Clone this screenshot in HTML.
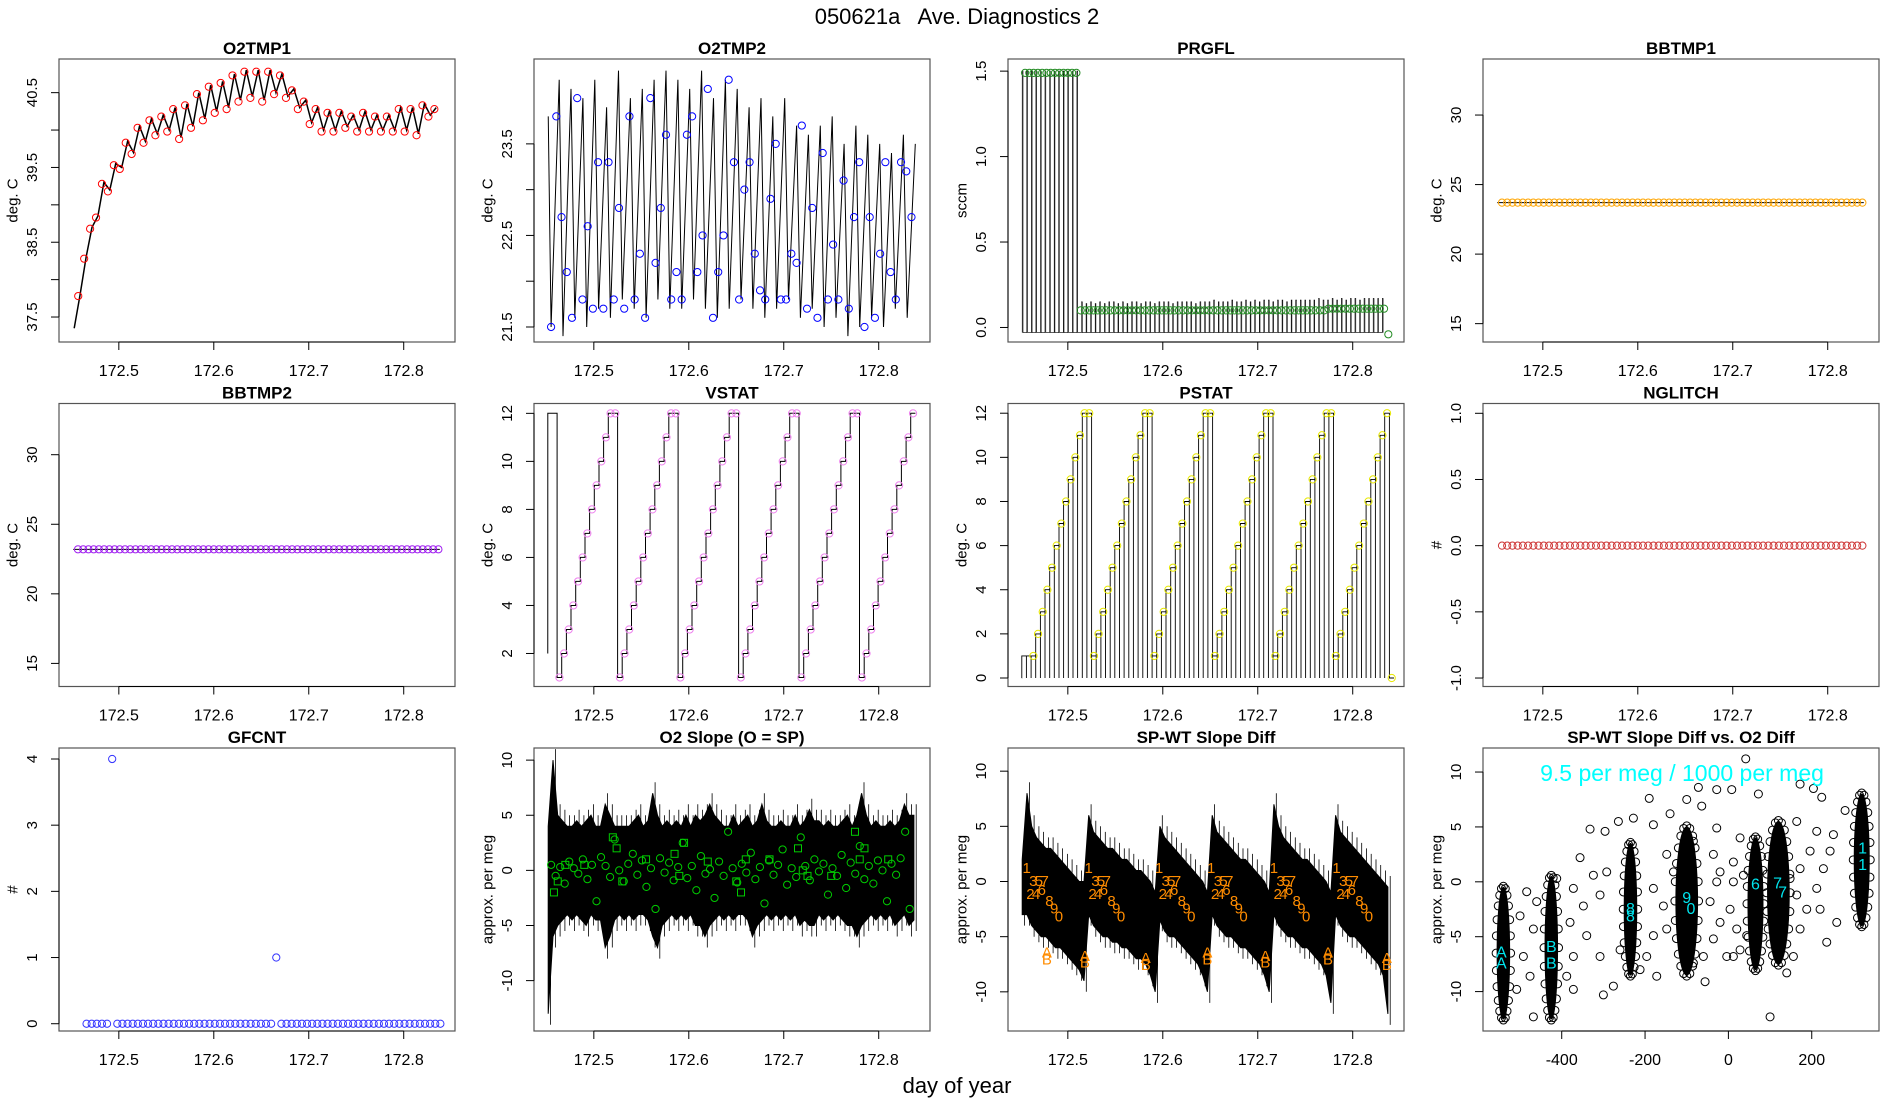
<!DOCTYPE html>
<html><head><meta charset="utf-8"><title>050621a Ave. Diagnostics 2</title>
<style>
html,body{margin:0;padding:0;background:#fff;}
svg{display:block;font-family:"Liberation Sans",Arial,sans-serif;}
</style></head>
<body>
<svg id="chart" width="1900" height="1100" viewBox="0 0 1900 1100" xmlns="http://www.w3.org/2000/svg">
<rect x="0" y="0" width="1900" height="1100" fill="#fff"/>
<text x="957" y="24" font-size="22" text-anchor="middle" xml:space="preserve">050621a   Ave. Diagnostics 2</text>
<text x="957" y="1093" font-size="22" text-anchor="middle">day of year</text>
</svg>
<script>
// ---------- data ----------
const o2tmp1Line=[37.35,37.8,38.3,38.7,38.85,39.3,39.2,39.55,39.5,39.85,39.7,40.05,39.85,40.15,39.95,40.2,40.0,40.3,39.9,40.35,40.05,40.5,40.15,40.6,40.25,40.65,40.3,40.75,40.4,40.8,40.45,40.8,40.4,40.8,40.5,40.75,40.45,40.55,40.3,40.4,40.1,40.3,40.0,40.25,40.0,40.25,40.05,40.2,40.0,40.25,40.0,40.2,40.0,40.2,40.0,40.3,40.0,40.3,39.95,40.35,40.2,40.3];
const o2tmp2Peaks=[24.2,24.1,24.0,24.2,23.9,24.3,24.0,24.1,24.2,24.3,24.2,24.1,24.3,24.0,24.2,24.1,23.9,24.0,23.8,24.0,23.7,23.6,23.7,23.8,23.5,23.7,23.6,23.5,23.4,23.6,23.5];
const o2tmp2Troughs=[21.5,21.4,21.6,21.5,21.7,21.6,21.8,21.7,21.6,21.8,21.7,21.7,21.8,21.7,21.6,21.7,21.8,21.7,21.6,21.7,21.8,21.6,21.7,21.5,21.6,21.4,21.5,21.6,21.5,21.7,21.6];
const o2tmp2Points=[21.5,23.8,22.7,22.1,21.6,24.0,21.8,22.6,21.7,23.3,21.7,23.3,21.8,22.8,21.7,23.8,21.8,22.3,21.6,24.0,22.2,22.8,23.6,21.8,22.1,21.8,23.6,23.8,22.1,22.5,24.1,21.6,22.1,22.5,24.2,23.3,21.8,23.0,23.3,22.3,21.9,21.8,22.9,23.5,21.8,21.8,22.3,22.2,23.7,21.7,22.8,21.6,23.4,21.8,22.4,21.8,23.1,21.7,22.7,23.3,21.5,22.7,21.6,22.3,23.3,22.1,21.8,23.3,23.2,22.7];
const prgflPeaks=[1.5,1.5,1.5,1.5,1.5,1.5,1.5,1.5,1.5,1.5,1.5,1.5,1.5,0.15,0.14,0.15,0.14,0.15,0.14,0.15,0.15,0.14,0.15,0.14,0.15,0.15,0.14,0.15,0.15,0.14,0.15,0.15,0.15,0.14,0.15,0.15,0.15,0.15,0.14,0.15,0.15,0.15,0.16,0.15,0.15,0.15,0.16,0.15,0.15,0.16,0.15,0.16,0.15,0.16,0.16,0.15,0.16,0.16,0.15,0.16,0.16,0.16,0.16,0.16,0.16,0.17,0.16,0.16,0.17,0.16,0.17,0.16,0.17,0.17,0.16,0.17,0.17,0.17,0.17,0.17];
const prgflPoints=[1.49,1.49,1.49,1.49,1.49,1.49,1.49,1.49,1.49,1.49,1.49,1.49,1.49,0.1,0.1,0.1,0.1,0.1,0.1,0.1,0.1,0.1,0.1,0.1,0.1,0.1,0.1,0.1,0.1,0.1,0.1,0.1,0.1,0.1,0.1,0.1,0.1,0.1,0.1,0.1,0.1,0.1,0.1,0.1,0.1,0.1,0.1,0.1,0.1,0.1,0.1,0.1,0.1,0.1,0.1,0.1,0.1,0.1,0.1,0.1,0.1,0.1,0.1,0.1,0.1,0.1,0.1,0.1,0.1,0.1,0.1,0.11,0.11,0.11,0.11,0.11,0.11,0.11,0.11,0.11,0.11,0.11,0.11,0.11,0.11,-0.04];
const bbtmp1Points=[23.7,23.7,23.7,23.7,23.7,23.7,23.7,23.7,23.7,23.7,23.7,23.7,23.7,23.7,23.7,23.7,23.7,23.7,23.7,23.7,23.7,23.7,23.7,23.7,23.7,23.7,23.7,23.7,23.7,23.7,23.7,23.7,23.7,23.7,23.7,23.7,23.7,23.7,23.7,23.7,23.7,23.7,23.7,23.7,23.7,23.7,23.7,23.7,23.7,23.7,23.7,23.7,23.7,23.7,23.7,23.7,23.7,23.7,23.7,23.7,23.7,23.7,23.7,23.7,23.7,23.7,23.7,23.7,23.7,23.7];
const bbtmp2Points=[23.2,23.2,23.2,23.2,23.2,23.2,23.2,23.2,23.2,23.2,23.2,23.2,23.2,23.2,23.2,23.2,23.2,23.2,23.2,23.2,23.2,23.2,23.2,23.2,23.2,23.2,23.2,23.2,23.2,23.2,23.2,23.2,23.2,23.2,23.2,23.2,23.2,23.2,23.2,23.2,23.2,23.2,23.2,23.2,23.2,23.2,23.2,23.2,23.2,23.2,23.2,23.2,23.2,23.2,23.2,23.2,23.2,23.2,23.2,23.2,23.2,23.2,23.2,23.2,23.2,23.2,23.2,23.2,23.2,23.2];
const vstatLevels=[12,12,1,2,3,4,5,6,7,8,9,10,11,12,12,1,2,3,4,5,6,7,8,9,10,11,12,12,1,2,3,4,5,6,7,8,9,10,11,12,12,1,2,3,4,5,6,7,8,9,10,11,12,12,1,2,3,4,5,6,7,8,9,10,11,12,12,1,2,3,4,5,6,7,8,9,10,11,12];
const pstatLevels=[1,1,1,2,3,4,5,6,7,8,9,10,11,12,12,1,2,3,4,5,6,7,8,9,10,11,12,12,1,2,3,4,5,6,7,8,9,10,11,12,12,1,2,3,4,5,6,7,8,9,10,11,12,12,1,2,3,4,5,6,7,8,9,10,11,12,12,1,2,3,4,5,6,7,8,9,10,11,12,0];
const nglitchPoints=[0,0,0,0,0,0,0,0,0,0,0,0,0,0,0,0,0,0,0,0,0,0,0,0,0,0,0,0,0,0,0,0,0,0,0,0,0,0,0,0,0,0,0,0,0,0,0,0,0,0,0,0,0,0,0,0,0,0,0,0,0,0,0,0,0,0,0,0,0,0];
const gfcntPoints=[0,0,0,0,0,4,0,0,0,0,0,0,0,0,0,0,0,0,0,0,0,0,0,0,0,0,0,0,0,0,0,0,0,0,0,0,0,1,0,0,0,0,0,0,0,0,0,0,0,0,0,0,0,0,0,0,0,0,0,0,0,0,0,0,0,0,0,0,0,0];
const o2SlopeUpper=[4,10,5,4.5,4,4,4.5,4,4.5,5,4,4,6,5,4,4,4,4,4.5,5,4,4.5,7,5,4,4.5,4,4.5,4,5,4,5,4.5,5,6,5,4.5,4,4,5,4,4.5,5,4,4.5,6,4.5,4,4,4.5,4,4,5,4,4.5,5.5,4.5,4.5,4,4.5,4,4,4.5,5,4,5,7,5,4,4.5,4,4,4.5,4,4.5,6,5,5];
const o2SlopeLower=[-13,-6,-5,-4.5,-4,-4.5,-4,-4.5,-5,-4,-4.5,-4.5,-7,-6,-4.5,-4,-4.5,-4,-4.5,-4,-4,-4.5,-6,-7,-5,-4.5,-4,-4.5,-4,-4.5,-4,-5,-5,-6,-5,-4.5,-4,-4.5,-4,-4.5,-4,-4,-4.5,-6,-5,-4.5,-4,-4.5,-4,-4.5,-4,-4.5,-4,-5,-4.5,-5,-5,-4,-4.5,-4,-4.5,-4,-4.5,-5,-5,-6,-5,-4.5,-4,-4.5,-4,-4.5,-4,-5,-4.5,-4,-5,-4.5];
const o2SlopeCircles=[0.5,-0.5,0.3,-1.2,0.8,0.2,-0.3,1.0,-0.8,0.5,-2.8,1.2,0.4,-0.6,2.8,0.0,-1.0,0.6,1.5,-0.4,0.9,-1.5,0.2,-3.5,1.1,-0.2,0.7,-0.9,0.3,2.5,-0.7,0.4,-1.8,1.3,-0.3,0.1,-2.5,0.8,-0.5,3.5,0.2,-1.1,0.6,-0.2,1.6,-0.8,0.3,-3.0,0.9,-0.4,0.5,1.9,-1.3,0.2,-0.6,3.0,0.4,-0.9,1.0,-0.1,0.6,-2.2,0.2,-0.5,1.4,-1.6,0.7,-0.3,2.2,-0.8,0.4,-1.2,0.9,0.0,-2.8,0.6,-0.4,1.1,3.5,-3.5];
const o2SlopeSquareX=[172.458,172.462,172.47,172.52,172.524,172.53,172.585,172.59,172.595,172.65,172.655,172.66,172.715,172.72,172.725,172.775,172.78,172.785,172.49,172.555,172.62,172.685,172.75,172.81];
const o2SlopeSquareY=[-2,-1,0.5,3,2,-1,1.5,-0.5,2.5,-1,-2,1,2,0,-0.5,3.5,1,2,0.5,1,0.8,1,-0.5,1];
const spwtUpper=[2,8,5,4,3.5,3,3,2.5,2,1.5,1,0.5,0,0,6,4.5,4,3.5,3,3,2.5,2,2,1.5,1,1,0.5,0,-1,5,4,3.5,3,2.5,2,1.5,1,0.5,0,-1,6,4.5,4,3.5,3,2.5,2,2,1.5,1,0.5,0,-1,7,5,4,3.5,3,2.5,2,2,1.5,1,0.5,0,-1,6,4.5,4,3.5,3,2.5,2,1.5,1,0.5,0,-0.5];
const spwtLower=[-3,-3,-4,-4.5,-5,-5,-5.5,-6,-6,-6.5,-7,-7.5,-8,-9,-3,-4,-4.5,-5,-5,-5.5,-5.5,-6,-6,-6.5,-7,-7,-7.5,-8.5,-10,-3.5,-4.5,-5,-5,-5.5,-6,-6.5,-7,-7.5,-8.5,-10,-3,-4,-4.5,-5,-5,-5.5,-6,-6,-6.5,-7,-7.5,-8.5,-10,-3,-4,-4.5,-5,-5,-5.5,-6,-6,-6.5,-7,-7.5,-8.5,-11,-3,-4,-4.5,-5,-5,-5.5,-6,-6.5,-7,-7.5,-8.5,-12];
const spwtCycleStarts=[172.4566,172.522,172.596,172.651,172.717,172.783];
const spwtDigits=['1','2','3','4','5','6','7','8','9','0'];
const spwtDigitDx=[0,0.004,0.007,0.010,0.013,0.016,0.019,0.024,0.029,0.034];
const spwtDigitY=[1.2,-1.2,0,-1.2,0,-0.8,0,-1.8,-2.5,-3.2];
const spwtAX=[172.478,172.518,172.582,172.647,172.708,172.774,172.836];
const spwtAY=[-6.5,-6.8,-7,-6.5,-6.8,-6.5,-7];
const scatX=[41.6,-72,-28,8,-100,-190,72,172,204,224,-64,-140,-228,-264,-332,-296,-180,-356,-292,-324,-372,-308,-348,-380,-340,-372,-388,-372,-300,-276,-308,-260,-484,-500,-468,-492,-476,-508,-468,-460,-180,-156,-148,-180,-196,-172,-212,-148,-132,-36,-20,12,-44,4,-20,20,-36,-4,-56,100,140,156,172,188,212,228,244,196,172,164,212,252,280,260,236,220,28,-28,-84,-92,-84,-60,12,28,44,12,-28,36,124,148,164,-412];
const scatY=[11.2,8.6,8.4,8.4,7.5,7.6,8.0,8.9,8.5,7.7,6.9,6.2,5.8,5.5,4.8,4.6,5.2,2.2,0.9,0.6,-0.6,-1.2,-2.2,-3.7,-4.9,-6.8,-8.6,-9.8,-10.3,-9.5,-6.8,-6.2,-0.9,-3.1,-4.3,-6.8,-8.6,-9.8,-12.3,-1.8,-0.6,-2.2,-4.3,-4.9,-6.8,-8.6,-8.0,2.5,0.9,2.5,0.9,1.8,-1.8,-2.5,-3.7,-4.3,-5.2,-6.8,-9.1,-12.3,-8.3,-6.8,-4.3,-2.5,-0.6,1.2,2.8,2.8,1.2,5.5,4.6,4.3,6.5,-3.7,-5.5,-2.5,4.0,4.9,3.7,-3.7,-7.4,-6.8,-6.8,-6.2,-4.9,0,0,0.6,1.8,0.3,-1.2,0.3];
const clusterX=[-540,-425,-235,-100,65,120,320];
const clusterHalfW=[15,15,15,26,18,26,18];
const clusterYMin=[-12.5,-12.5,-8.5,-8.5,-8,-7.5,-4];
const clusterYMax=[-0.5,0.5,3.5,5,4,5.5,8];
const cyanChars=['A','A','B','B','8','8','9','0','6','7','7','1','1'];
const cyanX=[-545,-545,-425,-425,-235,-235,-100,-90,65,118,130,322,322];
const cyanY=[-6.5,-7.5,-6,-7.5,-2.5,-3.2,-1.5,-2.5,-0.3,-0.2,-1,3,1.5];

// ---------- helpers ----------
const NS='http://www.w3.org/2000/svg';
const svg=document.getElementById('chart');
function mk(tag,attrs,parent){const e=document.createElementNS(NS,tag);for(const k in attrs)e.setAttribute(k,attrs[k]);(parent||svg).appendChild(e);return e;}
const colL=[59,534,1008,1483],rowT=[59,403.5,748],W=396,H=283;
const TX0=172.437,TX1=172.854;
function panel(idx,name,title,ylab,ymin,ymax,yticks,ylabels,xmin,xmax,xticks,xlabels){
  const L=colL[idx%4],T=rowT[Math.floor(idx/4)];
  const g=mk('g',{});
  
  
  const sx=v=>L+(v-xmin)/(xmax-xmin)*W, sy=v=>T+(ymax-v)/(ymax-ymin)*H;
  const cp=mk('clipPath',{id:'clip'+idx},g);
  mk('rect',{x:L,y:T,width:W,height:H},cp);
  const data=mk('g',{'clip-path':'url(#clip'+idx+')'},g);
  
  
  const box=mk('rect',{x:L,y:T,width:W,height:H,fill:'none',stroke:'#555','stroke-width':1.2},g);
  
  
  const t=mk('text',{x:L+W/2,y:T-5,'font-size':17,'font-weight':'bold','text-anchor':'middle'},g);
  t.textContent=title;
  
  
  const yl=mk('text',{x:L-46,y:T+H/2,'font-size':15,'text-anchor':'middle','dominant-baseline':'central',transform:`rotate(-90 ${L-46} ${T+H/2})`},g);
  yl.textContent=ylab;
  
  
  const ya=mk('g',{stroke:'#000','stroke-width':1},g);
  
  
  mk('line',{x1:L,x2:L,y1:sy(yticks[0]),y2:sy(yticks[yticks.length-1])},ya);
  yticks.forEach((v,i)=>{
    mk('line',{x1:L,x2:L-8,y1:sy(v),y2:sy(v)},ya);
    if(ylabels[i]!==''){
      const tl=mk('text',{x:L-22,y:sy(v),'font-size':15,'text-anchor':'middle',stroke:'none',fill:'#000',transform:`rotate(-90 ${L-22} ${sy(v)})`},g);
      tl.textContent=ylabels[i];
      
      
    }
  });
  const xa=mk('g',{stroke:'#000','stroke-width':1},g);
  
  
  mk('line',{y1:T+H,y2:T+H,x1:sx(xticks[0]),x2:sx(xticks[xticks.length-1])},xa);
  xticks.forEach((v,i)=>{
    mk('line',{x1:sx(v),x2:sx(v),y1:T+H,y2:T+H+8},xa);
    const tl=mk('text',{x:sx(v),y:T+H+34,'font-size':16,'text-anchor':'middle'},g);
    tl.textContent=xlabels[i];
    
    
  });
  return {data,sx,sy,L,T};
}
const tTicks=[172.5,172.6,172.7,172.8],tLabels=['172.5','172.6','172.7','172.8'];
function circ(p,x,y,color,name,r){
  const c=mk('circle',{cx:p.sx(x),cy:p.sy(y),r:r||3.6,fill:'none',stroke:color,'stroke-width':1},p.data);
  
  
  return c;
}
function pathEl(p,d,name,attrs){
  const e=mk('path',Object.assign({d:d,fill:'none',stroke:'#000','stroke-width':1},attrs||{}),p.data);
  
  
  return e;
}

// ---- P1 O2TMP1
{
  const p=panel(0,'o2tmp1','O2TMP1','deg. C',37.166,40.95,[37.5,38,38.5,39,39.5,40,40.5],['37.5','','38.5','','39.5','','40.5'],TX0,TX1,tTicks,tLabels);
  let d='';
  o2tmp1Line.forEach((v,i)=>{const x=172.453+i*0.00625;d+=(i?'L':'M')+p.sx(x).toFixed(1)+','+p.sy(v).toFixed(1);});
  pathEl(p,d,'o2tmp1-line',{'stroke-width':1.5});
  o2tmp1Line.forEach((v,i)=>{if(i>0){circ(p,172.453+i*0.00625-0.002,v-0.02,'#ff0000','o2tmp1-point');}});
}
// ---- P2 O2TMP2
{
  const p=panel(1,'o2tmp2','O2TMP2','deg. C',21.336,24.427,[21.5,22,22.5,23,23.5],['21.5','','22.5','','23.5'],TX0,TX1,tTicks,tLabels);
  let d='M'+p.sx(172.452)+','+p.sy(23.8);
  o2tmp2Troughs.forEach((v,i)=>{const x=172.455+i*0.0125;d+='L'+p.sx(x).toFixed(1)+','+p.sy(v).toFixed(1);d+='L'+p.sx(x+0.0085).toFixed(1)+','+p.sy(o2tmp2Peaks[i]).toFixed(1);});
  pathEl(p,d,'o2tmp2-line');
  o2tmp2Points.forEach((v,i)=>circ(p,172.455+i*0.0055,v,'#0000ff','o2tmp2-point'));
}
// ---- P3 PRGFL
{
  const p=panel(2,'prgfl','PRGFL','sccm',-0.085,1.571,[0,0.5,1,1.5],['0.0','0.5','1.0','1.5'],TX0,TX1,tTicks,tLabels);
  let d='';
  prgflPeaks.forEach((v,i)=>{const x=172.452+i*0.0048;d+=(i?'L':'M')+p.sx(x).toFixed(1)+','+p.sy(-0.03).toFixed(1)+'L'+p.sx(x).toFixed(1)+','+p.sy(v).toFixed(1)+'L'+p.sx(x+0.0008).toFixed(1)+','+p.sy(v).toFixed(1)+'L'+p.sx(x+0.0008).toFixed(1)+','+p.sy(-0.03).toFixed(1);});
  pathEl(p,d,'prgfl-line',{'stroke-width':0.6});
  prgflPoints.forEach((v,i)=>circ(p,172.455+i*0.0045,v,'#228b22','prgfl-point'));
}
// ---- P4 BBTMP1
{
  const p=panel(3,'bbtmp1','BBTMP1','deg. C',13.68,34.03,[15,20,25,30],['15','20','25','30'],TX0,TX1,tTicks,tLabels);
  pathEl(p,'M'+p.sx(172.452)+','+p.sy(bbtmp1Points[0])+'H'+p.sx(172.838),'bbtmp1-line');
  bbtmp1Points.forEach((v,i)=>circ(p,172.457+i*0.0055,v,'#ffa500','bbtmp1-point'));
}
// ---- P5 BBTMP2
{
  const p=panel(4,'bbtmp2','BBTMP2','deg. C',13.34,33.68,[15,20,25,30],['15','20','25','30'],TX0,TX1,tTicks,tLabels);
  pathEl(p,'M'+p.sx(172.452)+','+p.sy(bbtmp2Points[0])+'H'+p.sx(172.838),'bbtmp2-line');
  bbtmp2Points.forEach((v,i)=>circ(p,172.457+i*0.0055,v,'#a020f0','bbtmp2-point'));
}
// ---- P6 VSTAT
{
  const p=panel(5,'vstat','VSTAT','deg. C',0.625,12.41,[2,4,6,8,10,12],['2','4','6','8','10','12'],TX0,TX1,tTicks,tLabels);
  const st=0.0049,x0=172.4515;
  let d='M'+p.sx(x0)+','+p.sy(2);
  vstatLevels.forEach((v,i)=>{const x=x0+i*st;d+='L'+p.sx(x).toFixed(1)+','+p.sy(v).toFixed(1)+'L'+p.sx(x+st).toFixed(1)+','+p.sy(v).toFixed(1);});
  pathEl(p,d,'vstat-line');
  vstatLevels.forEach((v,i)=>{if(i>1)circ(p,x0+i*st+st/2,v,'#ee82ee','vstat-point');});
}
// ---- P7 PSTAT
{
  const p=panel(6,'pstat','PSTAT','deg. C',-0.385,12.44,[0,2,4,6,8,10,12],['0','2','4','6','8','10','12'],TX0,TX1,tTicks,tLabels);
  const st=0.0049,x0=172.4515;
  let d='M'+p.sx(x0)+','+p.sy(0);
  pstatLevels.forEach((v,i)=>{const x=x0+i*st;const a=p.sx(x).toFixed(1),c=p.sx(x+st).toFixed(1),y=p.sy(v).toFixed(1),z=p.sy(0).toFixed(1);
    d+='L'+a+','+z+'L'+a+','+y+'L'+c+','+y;});
  pathEl(p,d,'pstat-line',{'stroke-width':0.9});
  pstatLevels.forEach((v,i)=>{if(i>1)circ(p,x0+i*st+st/2,v,'#e8e800','pstat-point');});
}
// ---- P8 NGLITCH
{
  const p=panel(7,'nglitch','NGLITCH','#',-1.064,1.074,[-1,-0.5,0,0.5,1],['-1.0','-0.5','0.0','0.5','1.0'],TX0,TX1,tTicks,tLabels);
  nglitchPoints.forEach((v,i)=>circ(p,172.457+i*0.0055,v,'#cd3333','nglitch-point'));
}
// ---- P9 GFCNT
{
  const p=panel(8,'gfcnt','GFCNT','#',-0.11,4.166,[0,1,2,3,4],['0','1','2','3','4'],TX0,TX1,tTicks,tLabels);
  gfcntPoints.forEach((v,i)=>circ(p,172.466+i*0.0054,v,'#3333ff','gfcnt-point'));
}
// ---- P10 O2 Slope
{
  const p=panel(9,'o2-slope','O2 Slope (O = SP)','approx. per meg',-14.57,11.1,[-10,-5,0,5,10],['-10','-5','0','5','10'],TX0,TX1,tTicks,tLabels);
  const n=Math.min(o2SlopeUpper.length,o2SlopeLower.length);
  let d='';
  for(let i=0;i<n;i++){d+=(i?'L':'M')+p.sx(172.452+i*0.005).toFixed(1)+','+p.sy(o2SlopeUpper[i]).toFixed(1);}
  for(let i=n-1;i>=0;i--){d+='L'+p.sx(172.452+i*0.005).toFixed(1)+','+p.sy(o2SlopeLower[i]).toFixed(1);}
  pathEl(p,d+'Z','o2-slope-band',{fill:'#000'});
  let s='';
  for(let i=0;i<n;i++){const x=p.sx(172.452+i*0.005+0.0025).toFixed(1);s+='M'+x+','+p.sy(o2SlopeUpper[i]+1).toFixed(1)+'L'+x+','+p.sy(o2SlopeLower[i]-1).toFixed(1);}
  pathEl(p,s,'o2-slope-spikes',{'stroke-width':0.8});
  o2SlopeCircles.forEach((v,i)=>circ(p,172.455+i*0.00478,v,'#00cc00','o2-slope-circle'));
  o2SlopeSquareX.forEach((x,i)=>{const r=mk('rect',{x:p.sx(x)-3.5,y:p.sy(o2SlopeSquareY[i])-3.5,width:7,height:7,fill:'none',stroke:'#00cc00'},p.data);
    
    });
}
// ---- P11 SP-WT
{
  const p=panel(10,'spwt-slope-diff','SP-WT Slope Diff','approx. per meg',-13.55,12.1,[-10,-5,0,5,10],['-10','-5','0','5','10'],TX0,TX1,tTicks,tLabels);
  const n=Math.min(spwtUpper.length,spwtLower.length);
  let d='';
  for(let i=0;i<n;i++){d+=(i?'L':'M')+p.sx(172.452+i*0.005).toFixed(1)+','+p.sy(spwtUpper[i]).toFixed(1);}
  for(let i=n-1;i>=0;i--){d+='L'+p.sx(172.452+i*0.005).toFixed(1)+','+p.sy(spwtLower[i]).toFixed(1);}
  pathEl(p,d+'Z','spwt-band',{fill:'#000'});
  let s='';
  for(let i=0;i<n;i++){const x=p.sx(172.452+i*0.005+0.0025).toFixed(1);s+='M'+x+','+p.sy(spwtUpper[i]+1).toFixed(1)+'L'+x+','+p.sy(spwtLower[i]-1).toFixed(1);}
  pathEl(p,s,'spwt-spikes',{'stroke-width':0.8});
  spwtCycleStarts.forEach(s0=>{spwtDigits.forEach((ch,j)=>{const t=mk('text',{x:p.sx(s0+spwtDigitDx[j]),y:p.sy(spwtDigitY[j]),'font-size':15,fill:'#ff8c00','text-anchor':'middle','dominant-baseline':'central'},p.data);t.textContent=ch;
    
    });});
  spwtAX.forEach((x,i)=>{['A','B'].forEach((ch,k)=>{const t=mk('text',{x:p.sx(x),y:p.sy(spwtAY[i]-k*0.6),'font-size':15,fill:'#ff8c00','text-anchor':'middle','dominant-baseline':'central'},p.data);t.textContent=ch;
    
    });});
}
// ---- P12 scatter
{
  const p=panel(11,'spwt-vs-o2','SP-WT Slope Diff vs. O2 Diff','approx. per meg',-13.59,12.19,[-10,-5,0,5,10],['-10','-5','0','5','10'],-588.9,361.4,[-400,-200,0,200],['-400','-200','0','200']);
  scatX.forEach((x,i)=>circ(p,x,scatY[i],'#000','scatter-point',4));
  clusterX.forEach((x,i)=>{
    const cx=p.sx(x),cy=p.sy((clusterYMin[i]+clusterYMax[i])/2),rx=p.sx(x+clusterHalfW[i])-cx,ry=p.sy(clusterYMin[i])-cy;
    const e=mk('ellipse',{cx:cx,cy:cy,rx:rx,ry:ry,fill:'#000',stroke:'#000','stroke-width':1},p.data);
    
    
    for(let k=0;k<24;k++){
      const a=k/24*2*Math.PI;
      const c=mk('circle',{cx:cx+(rx+1)*Math.cos(a),cy:cy+(ry+1)*Math.sin(a),r:4,fill:'none',stroke:'#000','stroke-width':1},p.data);
      
      
    }
  });
  cyanChars.forEach((ch,i)=>{const t=mk('text',{x:p.sx(cyanX[i]),y:p.sy(cyanY[i]),'font-size':16,fill:'#00e5ee','text-anchor':'middle','dominant-baseline':'central'},p.data);t.textContent=ch;
    
    });
  const a=mk('text',{x:p.L+199,y:p.T+33,'font-size':23,fill:'#00ffff','text-anchor':'middle'},svg);
  a.textContent='9.5 per meg / 1000 per meg';
  
  
}
</script>
</body></html>
